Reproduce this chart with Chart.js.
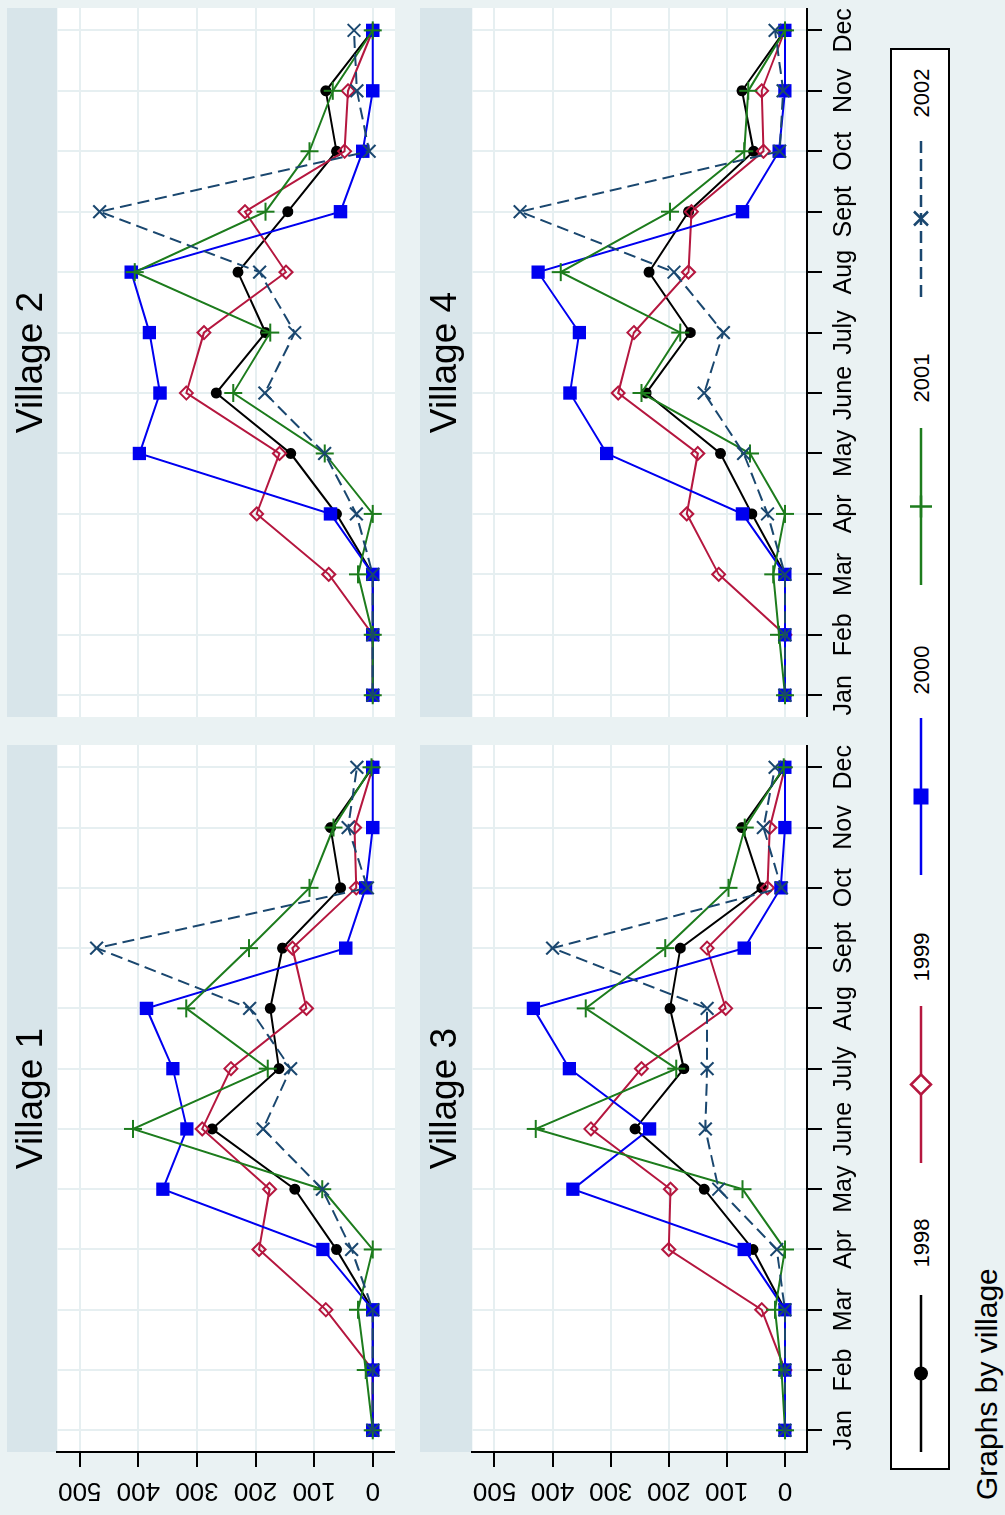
<!DOCTYPE html>
<html><head><meta charset="utf-8">
<script src="https://cdn.jsdelivr.net/npm/chart.js@4/dist/chart.umd.min.js"></script>
<style>
html,body{margin:0;padding:0;background:#EAF2F3;overflow:hidden;width:1005px;height:1515px;}
#stage{position:absolute;left:0;top:0;width:1515px;height:1005px;transform-origin:0 0;transform:translate(0,1515px) rotate(-90deg);background:#EAF2F3;font-family:"Liberation Sans",Arial,sans-serif;color:#000;}
canvas{position:absolute;}
#note{position:absolute;left:15px;top:970px;font-size:30px;line-height:34px;white-space:nowrap;}
#legend{position:absolute;left:45px;top:890px;}
</style></head><body>
<div id="stage">
  <canvas id="c1" width="770" height="388" style="left:0;top:7px"></canvas>
  <canvas id="c2" width="709" height="388" style="left:798px;top:7px"></canvas>
  <canvas id="c3" width="770" height="460" style="left:0;top:420px"></canvas>
  <canvas id="c4" width="709" height="460" style="left:798px;top:420px"></canvas>
  <svg id="legend" width="1422" height="60" xmlns="http://www.w3.org/2000/svg"></svg>
  <div id="note">Graphs by village</div>
</div>
<script>
// ---- data ----
const MONTHS = ['Jan','Feb','Mar','Apr','May','June','July','Aug','Sept','Oct','Nov','Dec'];
const YEARS = ['1998','1999','2000','2001','2002'];
const VALUE_TICKS = [0,100,200,300,400,500];
const VILLAGES = ['Village 1','Village 2','Village 3','Village 4'];

const V1_1998 = [0,0,0,62,133,274,160,175,154,55,72,0];
const V1_1999 = [0,0,80,194,176,291,242,113,137,28,31,0];
const V1_2000 = [0,0,0,85,358,317,341,386,46,12,0,0];
const V1_2001 = [0,12,25,0,86,409,179,318,211,108,67,2];
const V1_2002 = [0,0,0,36,86,187,140,210,471,9,42,27];

const V2_1998 = [0,0,0,62,140,267,183,230,145,62,80,0];
const V2_1999 = [0,0,75,198,159,318,288,148,218,48,42,0];
const V2_2000 = [0,0,0,72,398,363,381,412,55,17,0,0];
const V2_2001 = [0,0,25,0,82,238,175,406,183,108,68,0];
const V2_2002 = [0,0,0,28,82,184,133,193,466,6,27,32];

const V3_1998 = [0,0,0,55,139,258,174,198,180,40,74,0];
const V3_1999 = [0,0,40,200,197,334,247,102,134,30,26,0];
const V3_2000 = [0,0,0,70,365,233,371,433,70,7,0,0];
const V3_2001 = [0,6,17,0,73,429,187,343,206,97,69,2];
const V3_2002 = [0,0,0,14,114,137,134,134,400,6,37,17];

const V4_1998 = [0,0,0,57,111,239,163,234,166,54,74,0];
const V4_1999 = [0,0,114,169,150,287,260,166,161,37,40,0];
const V4_2000 = [0,0,0,73,307,370,354,425,73,10,0,0];
const V4_2001 = [0,10,20,0,60,247,180,386,198,70,63,0];
const V4_2002 = [0,0,0,30,71,139,106,191,456,9,3,17];

const PANEL_SERIES = [
  [V1_1998,V1_1999,V1_2000,V1_2001,V1_2002],
  [V2_1998,V2_1999,V2_2000,V2_2001,V2_2002],
  [V3_1998,V3_1999,V3_2000,V3_2001,V3_2002],
  [V4_1998,V4_1999,V4_2000,V4_2001,V4_2002]
];

// ---- styles ----
const FONT = '"Liberation Sans", Arial, sans-serif';
const GRID = '#E6EFF1';
const STRIP = '#D8E5EA';
const STYLES = [
  {color:'#000000', pointStyle:'circle',   radius:4.5, bg:'#000000', dash:[]},
  {color:'#B5173F', pointStyle:'rectRot',  radius:6.5, bg:'rgba(255,255,255,0)', dash:[]},
  {color:'#0000F0', pointStyle:'rect',     radius:8,   bg:'#0000F0', dash:[]},
  {color:'#1D7C1D', pointStyle:'cross',    radius:9,   bg:'rgba(0,0,0,0)', dash:[]},
  {color:'#1A476F', pointStyle:'crossRot', radius:9,   bg:'rgba(0,0,0,0)', dash:[12,6]}
];

Chart.defaults.font.family = FONT;
Chart.defaults.color = '#000';

const panelBg = {
  id:'panelBg',
  beforeDraw(chart){
    const {ctx, chartArea:a} = chart;
    ctx.save();
    ctx.fillStyle = STRIP;
    ctx.fillRect(a.left, 0, a.right - a.left, a.top);
    ctx.fillStyle = '#FFFFFF';
    ctx.fillRect(a.left, a.top, a.right - a.left, a.bottom - a.top);
    ctx.restore();
  }
};

function zeroPad(s){ s.paddingTop = 0; s.paddingBottom = 0; s.paddingLeft = 0; s.paddingRight = 0; }

function makePanel(id, idx, showY, showX, titlePad){
  const datasets = PANEL_SERIES[idx].map((vals, i) => ({
    label: YEARS[i],
    data: vals.map((v, m) => ({x: m, y: v})),
    borderColor: STYLES[i].color,
    borderWidth: 2,
    borderDash: STYLES[i].dash,
    pointStyle: STYLES[i].pointStyle,
    pointRadius: STYLES[i].radius,
    pointBackgroundColor: STYLES[i].bg,
    pointBorderColor: STYLES[i].color,
    pointBorderWidth: 2,
    tension: 0,
    fill: false,
    order: 4 - i
  }));
  return new Chart(document.getElementById(id), {
    type: 'line',
    data: { datasets },
    options: {
      responsive: false,
      animation: false,
      devicePixelRatio: 1,
      layout: { padding: 0, autoPadding: false },
      plugins: {
        legend: { display: false },
        tooltip: { enabled: false },
        title: {
          display: true, text: VILLAGES[idx], fullSize: false,
          font: { size: 37, weight: 'normal', family: FONT },
          color: '#000',
          padding: { top: titlePad, bottom: titlePad }
        }
      },
      scales: {
        x: {
          type: 'linear', min: -0.36, max: 11.37, position: 'bottom',
          afterBuildTicks: s => { s.ticks = MONTHS.map((m, i) => ({value: i})); },
          afterFit: s => { s.height = showX ? 73 : 0; zeroPad(s); },
          ticks: { display: showX, autoSkip: false, minRotation: 0, maxRotation: 0, padding: 7,
                   font: { size: 25 }, color: '#000', callback: v => MONTHS[v] },
          grid: { color: GRID, lineWidth: 2, drawTicks: showX, tickLength: 15, tickColor: '#000', tickWidth: 2 },
          border: { display: showX, color: '#000', width: 2 }
        },
        y: {
          type: 'linear', min: -38, max: 538, position: 'left',
          afterBuildTicks: s => { s.ticks = VALUE_TICKS.map(v => ({value: v})); },
          afterFit: s => { s.width = showY ? 63 : 0; zeroPad(s); },
          ticks: { display: showY, minRotation: 90, maxRotation: 90, crossAlign: 'center', padding: 1,
                   font: { size: 26 }, color: '#000', callback: v => String(v) },
          grid: { color: GRID, lineWidth: 2, drawTicks: showY, tickLength: 15, tickColor: '#000', tickWidth: 2 },
          border: { display: showY, color: '#000', width: 2 }
        }
      }
    },
    plugins: [panelBg]
  });
}

makePanel('c1', 0, true,  false, 3);
makePanel('c2', 1, false, false, 3);
makePanel('c3', 2, true,  true,  4);
makePanel('c4', 3, false, true,  4);

// ---- legend ----
(function(){
  const NS = 'http://www.w3.org/2000/svg';
  const svg = document.getElementById('legend');
  const OX = 45, CY = 31;
  const LINE_START = [63, 352, 640, 930, 1218];
  const LINE_LEN = 157;
  const LABEL_X = [272, 558, 845, 1137, 1422];
  function el(tag, attrs){ const e = document.createElementNS(NS, tag); for (const k in attrs) e.setAttribute(k, attrs[k]); svg.appendChild(e); return e; }
  el('rect', {x:1, y:1, width:1420, height:58, fill:'#FFFFFF', stroke:'#000', 'stroke-width':2});
  YEARS.forEach((yr, i) => {
    const st = STYLES[i];
    const x0 = LINE_START[i] - OX, x1 = x0 + LINE_LEN, mx = (x0 + x1) / 2;
    el('line', {x1:x0, y1:CY, x2:x1, y2:CY, stroke:st.color, 'stroke-width':2.5, 'stroke-dasharray': st.dash.length ? st.dash.join(' ') : 'none'});
    if (st.pointStyle === 'circle') el('circle', {cx:mx, cy:CY, r:7, fill:st.color});
    else if (st.pointStyle === 'rectRot') el('path', {d:`M${mx-10},${CY} L${mx},${CY-10} L${mx+10},${CY} L${mx},${CY+10} Z`, fill:'#fff', stroke:st.color, 'stroke-width':2.5});
    else if (st.pointStyle === 'rect') el('rect', {x:mx-8, y:CY-7.5, width:16, height:15, fill:st.color});
    else if (st.pointStyle === 'cross') el('path', {d:`M${mx-11},${CY} L${mx+11},${CY} M${mx},${CY-11} L${mx},${CY+11}`, stroke:st.color, 'stroke-width':2.5});
    else el('path', {d:`M${mx-7},${CY-7} L${mx+7},${CY+7} M${mx-7},${CY+7} L${mx+7},${CY-7}`, stroke:st.color, 'stroke-width':2.5});
    const t = el('text', {x: LABEL_X[i] - OX, y: CY, 'text-anchor':'middle', 'dominant-baseline':'central', 'font-size':22, 'font-family':FONT, fill:'#000'});
    t.textContent = yr;
  });
})();
</script>
</body></html>
